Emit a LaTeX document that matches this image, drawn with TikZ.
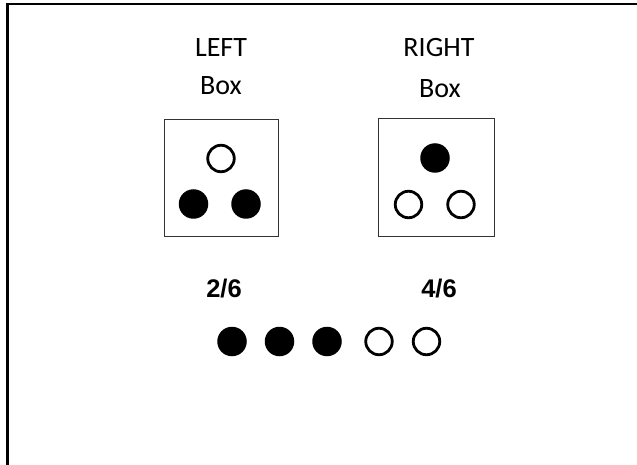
\documentclass[tikz,border=0pt]{standalone}
\usepackage{fontspec}
\setmainfont{Carlito}
\newfontfamily\fracfont{Liberation Sans}
\begin{document}
\begin{tikzpicture}[x=1pt,y=-1pt,
  frame/.style={line width=2.8pt,black},
  boxframe/.style={draw=black!80,line width=1.3pt},
  fullball/.style={circle,fill=black,inner sep=0pt,minimum size=29.5pt},
  emptyball/.style={circle,draw=black,line width=2.8pt,fill=white,inner sep=0pt,minimum size=26.5pt},
  label/.style={anchor=base,inner sep=0pt,font=\fontsize{28}{30}\selectfont},
  frac/.style={anchor=base,inner sep=0pt,font=\fracfont\bfseries\fontsize{25.5}{28}\selectfont}]
\useasboundingbox (0,0) rectangle (637,465);
\coordinate (ftr) at (640,4);
\coordinate (ftl) at (7.8,4);
\coordinate (fbl) at (7.8,468);
\draw[frame] (ftr) -- (ftl) -- (fbl);
% titles
\node[label] (lt) at (221,57) {LEFT};
\node[label] (lb) at (221,95) {Box};
\node[label] (rt) at (439,57) {RIGHT};
\node[label] (rb) at (440,98) {Box};
% boxes
\node[boxframe,minimum width=114pt,minimum height=117pt,inner sep=0pt] (lbox) at (221.5,178) {};
\node[boxframe,minimum width=116pt,minimum height=118pt,inner sep=0pt] (rbox) at (436.5,177.5) {};
% left box balls
\node[emptyball] (l1) at (221,158.5) {};
\node[fullball] (l2) at (193.5,204) {};
\node[fullball] (l3) at (246,204) {};
% right box balls
\node[fullball] (r1) at (435,158) {};
\node[emptyball] (r2) at (408.5,204.5) {};
\node[emptyball] (r3) at (461,204.5) {};
% fractions
\node[frac] (f1) at (224,297) {2/6};
\node[frac] (f2) at (439,297) {4/6};
% bottom row
\node[fullball] (b1) at (232,341.5) {};
\node[fullball] (b2) at (279.5,341.5) {};
\node[fullball] (b3) at (327,341.5) {};
\node[emptyball] (b4) at (379,341.5) {};
\node[emptyball] (b5) at (426.5,341.5) {};
\end{tikzpicture}
\end{document}
